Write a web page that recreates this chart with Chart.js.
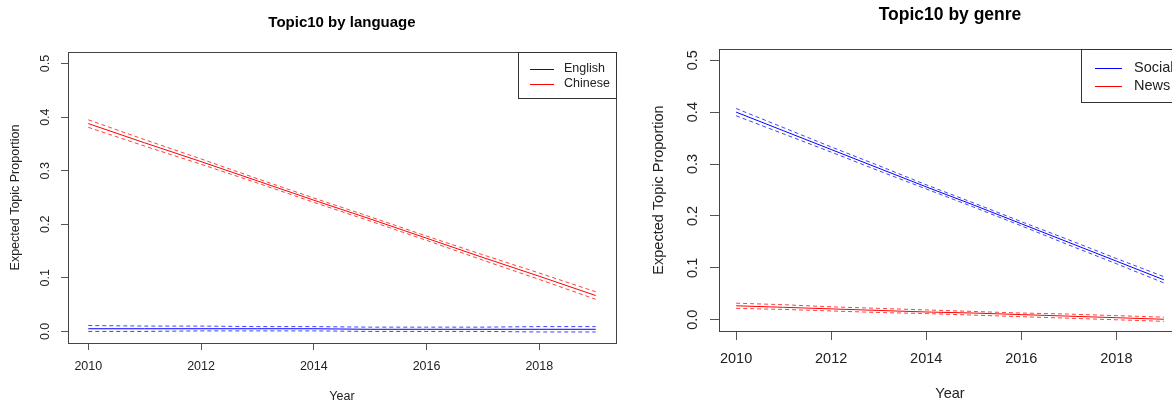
<!DOCTYPE html>
<html lang="en">
<head>
    <meta charset="utf-8">
    <title>Topic10</title>
    <script src="https://cdn.jsdelivr.net/npm/chart.js@4.4.1/dist/chart.umd.min.js"></script>
    <style>
        html, body { margin: 0; padding: 0; background: #fff; overflow: hidden; }
        body { width: 1172px; height: 404px; position: relative; }
        canvas { position: absolute; top: 0; }
        #langChart { left: 0; }
        #genreChart { left: 640px; }
    </style>
</head>
<body>
<canvas id="langChart" width="640" height="404"></canvas>
<canvas id="genreChart" width="560" height="404"></canvas>
<script>
    const years = [2010, 2011, 2012, 2013, 2014, 2015, 2016, 2017, 2018, 2019];
    const xTicks = [2010, 2012, 2014, 2016, 2018];
    const yTicks = [0, 0.1, 0.2, 0.3, 0.4, 0.5];
    const yTickLabels = ['0.0', '0.1', '0.2', '0.3', '0.4', '0.5'];

    // topic 10 by language
    const englishMean  = [0.005, 0.005, 0.005, 0.005, 0.005, 0.004, 0.004, 0.004, 0.004, 0.004];
    const englishUpper = [0.011, 0.010, 0.010, 0.009, 0.009, 0.008, 0.008, 0.008, 0.009, 0.009];
    const englishLower = [0.000, 0.000, 0.001, 0.001, 0.001, 0.000, 0.000, 0.000, -0.001, -0.001];
    const chineseMean  = [0.388, 0.352, 0.317, 0.281, 0.245, 0.210, 0.174, 0.138, 0.103, 0.067];
    const chineseUpper = [0.395, 0.358, 0.322, 0.285, 0.249, 0.214, 0.178, 0.143, 0.109, 0.074];
    const chineseLower = [0.381, 0.346, 0.312, 0.277, 0.241, 0.206, 0.170, 0.133, 0.097, 0.060];

    // topic 10 by genre
    const socialMean  = [0.400, 0.364, 0.328, 0.292, 0.256, 0.221, 0.185, 0.149, 0.113, 0.077];
    const socialUpper = [0.407, 0.370, 0.333, 0.297, 0.260, 0.225, 0.189, 0.154, 0.118, 0.083];
    const socialLower = [0.393, 0.358, 0.323, 0.287, 0.252, 0.217, 0.181, 0.144, 0.108, 0.071];
    const newsMean  = [0.027, 0.024, 0.021, 0.018, 0.015, 0.013, 0.010, 0.007, 0.004, 0.001];
    const newsUpper = [0.032, 0.029, 0.025, 0.022, 0.019, 0.016, 0.013, 0.011, 0.008, 0.005];
    const newsLower = [0.022, 0.020, 0.017, 0.014, 0.012, 0.009, 0.006, 0.003, 0.000, -0.003];

    const FONT = '"Liberation Sans", Arial, sans-serif';

    function pts(vals) {
        return years.map((yr, i) => ({x: yr, y: vals[i]}));
    }

    function buildDatasets(groups) {
        let out = [];
        for (const g of groups) {
            out.push({label: g.label, data: pts(g.mean), borderColor: g.color, borderWidth: 1,
                pointRadius: 0, tension: 0});
            out.push({label: g.label + ' upper', data: pts(g.upper), borderColor: g.band, borderWidth: 1,
                borderDash: [4, 3], pointRadius: 0, tension: 0});
            out.push({label: g.label + ' lower', data: pts(g.lower), borderColor: g.band, borderWidth: 1,
                borderDash: [4, 3], pointRadius: 0, tension: 0});
        }
        return out;
    }

    // box, titles, rotated y labels and the boxed legend, R style
    function rPlotPlugin(title, groups, look) {
        return {
            id: 'rPlot',
            afterDraw(chart) {
                const ctx = chart.ctx;
                const a = chart.chartArea;
                const ys = chart.scales.y;
                ctx.save();
                ctx.setLineDash([]);

                ctx.strokeStyle = '#444';
                ctx.lineWidth = 1;
                ctx.strokeRect(Math.round(a.left) + 0.5, Math.round(a.top) + 0.5,
                    Math.round(a.right - a.left), Math.round(a.bottom - a.top));

                const cx = (a.left + a.right) / 2;
                ctx.fillStyle = '#000';
                ctx.textAlign = 'center';
                ctx.textBaseline = 'middle';
                ctx.font = 'bold ' + look.titleSize + 'px ' + FONT;
                ctx.fillText(title, cx, a.top - look.titleGap);

                ctx.fillStyle = '#222';
                ctx.font = look.textSize + 'px ' + FONT;
                ctx.fillText('Year', cx, a.bottom + look.xTitleGap);

                ctx.save();
                ctx.translate(a.left - look.yTitleGap, (a.top + a.bottom) / 2);
                ctx.rotate(-Math.PI / 2);
                ctx.fillText('Expected Topic Proportion', 0, 0);
                ctx.restore();

                yTicks.forEach((v, i) => {
                    ctx.save();
                    ctx.translate(a.left - look.yLabelGap, ys.getPixelForValue(v));
                    ctx.rotate(-Math.PI / 2);
                    ctx.fillText(yTickLabels[i], 0, 0);
                    ctx.restore();
                });

                // legend in the top right corner
                const lx = a.right - look.keyWidth;
                const ly = a.top;
                ctx.fillStyle = '#fff';
                ctx.fillRect(lx, ly, look.keyWidth, look.keyHeight);
                ctx.strokeStyle = '#333';
                ctx.strokeRect(Math.round(lx) + 0.5, Math.round(ly) + 0.5,
                    Math.round(look.keyWidth), Math.round(look.keyHeight));
                ctx.textAlign = 'left';
                groups.forEach((g, i) => {
                    const ry = ly + look.keyFirst + i * look.keyStep;
                    ctx.beginPath();
                    ctx.strokeStyle = g.color;
                    ctx.moveTo(lx + look.keyLine0, Math.round(ry) + 0.5);
                    ctx.lineTo(lx + look.keyLine1, Math.round(ry) + 0.5);
                    ctx.stroke();
                    ctx.fillStyle = '#222';
                    ctx.fillText(g.label, lx + look.keyText, ry);
                });

                ctx.restore();
            }
        };
    }

    function makeChart(id, title, groups, look) {
        const tickFont = {family: FONT, size: look.textSize};
        return new Chart(document.getElementById(id), {
            type: 'line',
            data: {datasets: buildDatasets(groups)},
            options: {
                responsive: false,
                animation: false,
                devicePixelRatio: 1,
                layout: {padding: {left: 0, right: look.padRight, top: look.top, bottom: 0}},
                plugins: {legend: {display: false}, title: {display: false}, tooltip: {enabled: false}},
                scales: {
                    x: {
                        type: 'linear', min: 2009.64, max: 2019.36,
                        afterBuildTicks: (s) => { s.ticks = xTicks.map(v => ({value: v})); },
                        afterFit: (s) => { s.height = look.xHeight; },
                        grid: {drawOnChartArea: false, drawTicks: true, tickLength: look.tick, color: '#555'},
                        border: {display: false},
                        ticks: {font: tickFont, color: '#222', padding: look.xPad, maxRotation: 0,
                            autoSkip: false, callback: (v) => String(v)}
                    },
                    y: {
                        type: 'linear', min: -0.0216, max: 0.5216,
                        afterBuildTicks: (s) => { s.ticks = yTicks.map(v => ({value: v})); },
                        afterFit: (s) => { s.width = look.yWidth; },
                        grid: {drawOnChartArea: false, drawTicks: true, tickLength: look.tick, color: '#555'},
                        border: {display: false},
                        ticks: {display: false}
                    }
                }
            },
            plugins: [rPlotPlugin(title, groups, look)]
        });
    }

    makeChart('langChart', 'Topic10 by language', [
        {label: 'English', color: '#0000ff', band: 'rgba(0,0,255,0.75)', mean: englishMean, upper: englishUpper, lower: englishLower},
        {label: 'Chinese', color: '#ff0000', band: 'rgba(255,0,0,0.75)', mean: chineseMean, upper: chineseUpper, lower: chineseLower}
    ], {
        top: 52, padRight: 24, yWidth: 68, xHeight: 61, tick: 7, xPad: 9,
        textSize: 12.5, titleSize: 15, titleGap: 29, xTitleGap: 54, yTitleGap: 52, yLabelGap: 22,
        keyWidth: 98, keyHeight: 46, keyFirst: 17, keyStep: 15, keyLine0: 12, keyLine1: 36, keyText: 46
    });

    makeChart('genreChart', 'Topic10 by genre', [
        {label: 'Social', color: '#0000ff', band: 'rgba(0,0,255,0.75)', mean: socialMean, upper: socialUpper, lower: socialLower},
        {label: 'News', color: '#ff0000', band: 'rgba(255,0,0,0.75)', mean: newsMean, upper: newsUpper, lower: newsLower}
    ], {
        top: 49, padRight: 19, yWidth: 79, xHeight: 73, tick: 9, xPad: 10,
        textSize: 14.5, titleSize: 17.5, titleGap: 34, xTitleGap: 63, yTitleGap: 60, yLabelGap: 26,
        keyWidth: 100, keyHeight: 53, keyFirst: 19, keyStep: 18, keyLine0: 14, keyLine1: 41, keyText: 53
    });
</script>
</body>
</html>
